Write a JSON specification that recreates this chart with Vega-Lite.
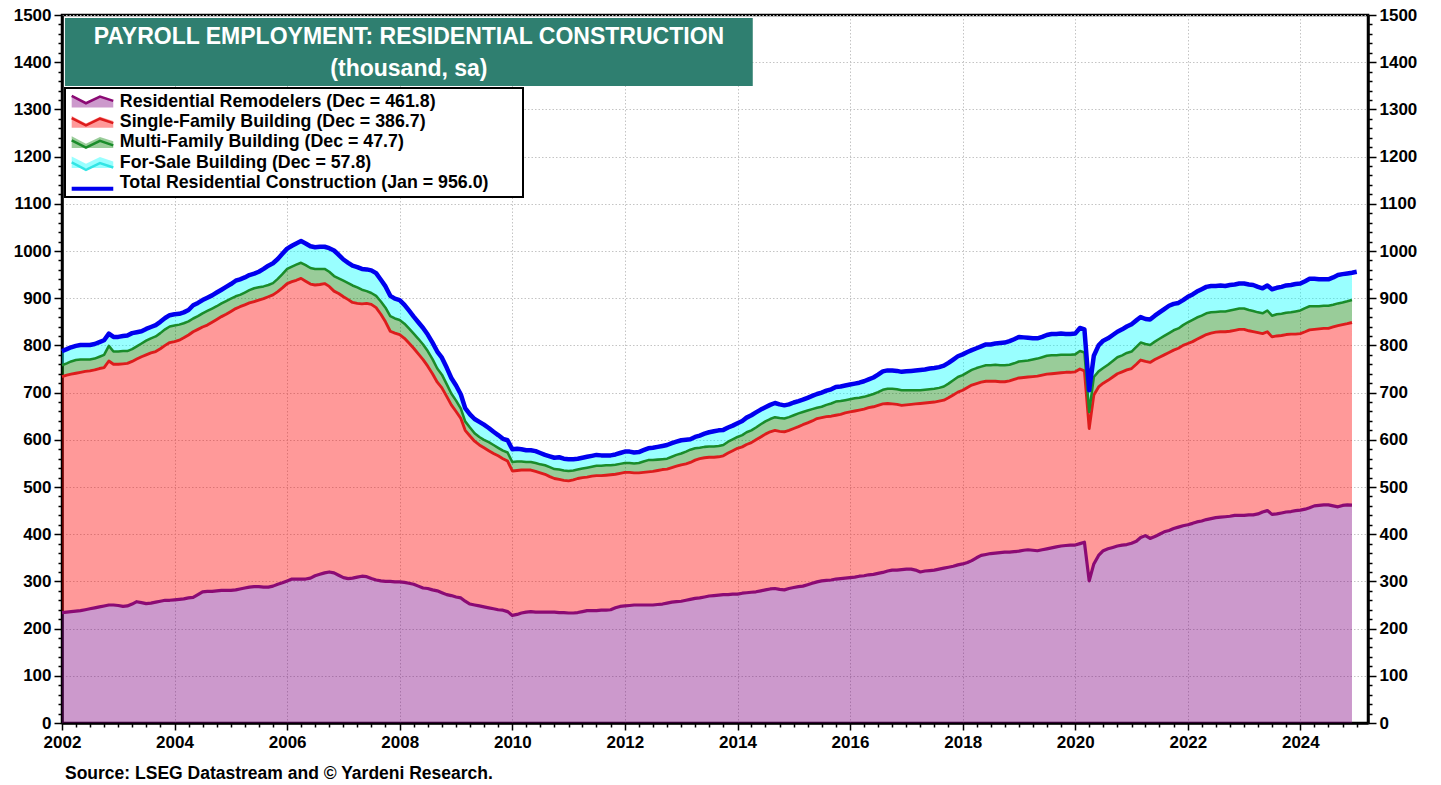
{
  "$schema": "https://vega.github.io/schema/vega-lite/v6.json",
  "width": 1306,
  "height": 708,
  "autosize": {"type": "none"},
  "padding": {"left": 62, "top": 15, "right": 73, "bottom": 62},
  "background": "white",
  "config": {
    "view": {"stroke": "black", "strokeWidth": 2.5},
    "font": "Liberation Sans",
    "axis": {
      "labelFont": "Liberation Sans", "labelFontSize": 17, "labelFontWeight": "bold", "labelColor": "black",
      "tickColor": "black", "tickWidth": 1.5, "domainColor": "black", "domainWidth": 2.5,
      "gridColor": "#c4c4c4", "gridDash": [1.5, 2], "gridWidth": 1, "labelOverlap": false, "labelPadding": 3
    },
    "legend": {"labelFont": "Liberation Sans", "labelFontSize": 17.8, "labelFontWeight": "bold", "labelColor": "black", "labelLimit": 0}
  },
  "title": {
    "text": "Source: LSEG Datastream and © Yardeni Research.",
    "orient": "bottom", "anchor": "start", "frame": "group",
    "font": "Liberation Sans", "fontSize": 17.5, "fontWeight": "bold", "color": "black",
    "offset": 15, "dx": 3
  },
  "data": {
    "format": {"parse": {"date": "utc:'%Y-%m'"}},
    "values": [
      {"date":"2002-01","a_remod":234,"b_single":500,"c_multi":24,"d_forsale":30,"total":788},
      {"date":"2002-02","a_remod":235,"b_single":502,"c_multi":25,"d_forsale":30,"total":792},
      {"date":"2002-03","a_remod":236,"b_single":503,"c_multi":27,"d_forsale":30,"total":796},
      {"date":"2002-04","a_remod":237,"b_single":504,"c_multi":28,"d_forsale":30,"total":799},
      {"date":"2002-05","a_remod":238,"b_single":505,"c_multi":27,"d_forsale":31,"total":801},
      {"date":"2002-06","a_remod":240,"b_single":505,"c_multi":25,"d_forsale":31,"total":801},
      {"date":"2002-07","a_remod":242,"b_single":504,"c_multi":24,"d_forsale":31,"total":801},
      {"date":"2002-08","a_remod":244,"b_single":504,"c_multi":24,"d_forsale":31,"total":803},
      {"date":"2002-09","a_remod":246,"b_single":505,"c_multi":25,"d_forsale":31,"total":807},
      {"date":"2002-10","a_remod":248,"b_single":505,"c_multi":27,"d_forsale":31,"total":811},
      {"date":"2002-11","a_remod":250,"b_single":517,"c_multi":32,"d_forsale":26,"total":825},
      {"date":"2002-12","a_remod":250,"b_single":510,"c_multi":27,"d_forsale":31,"total":818},
      {"date":"2003-01","a_remod":249,"b_single":511,"c_multi":27,"d_forsale":31,"total":818},
      {"date":"2003-02","a_remod":247,"b_single":514,"c_multi":27,"d_forsale":32,"total":820},
      {"date":"2003-03","a_remod":248,"b_single":514,"c_multi":26,"d_forsale":33,"total":821},
      {"date":"2003-04","a_remod":252,"b_single":514,"c_multi":26,"d_forsale":34,"total":826},
      {"date":"2003-05","a_remod":257,"b_single":514,"c_multi":27,"d_forsale":30,"total":828},
      {"date":"2003-06","a_remod":255,"b_single":521,"c_multi":28,"d_forsale":26,"total":830},
      {"date":"2003-07","a_remod":253,"b_single":527,"c_multi":30,"d_forsale":25,"total":835},
      {"date":"2003-08","a_remod":254,"b_single":530,"c_multi":31,"d_forsale":24,"total":839},
      {"date":"2003-09","a_remod":256,"b_single":531,"c_multi":32,"d_forsale":24,"total":843},
      {"date":"2003-10","a_remod":258,"b_single":535,"c_multi":33,"d_forsale":24,"total":850},
      {"date":"2003-11","a_remod":260,"b_single":540,"c_multi":34,"d_forsale":24,"total":858},
      {"date":"2003-12","a_remod":260,"b_single":546,"c_multi":34,"d_forsale":24,"total":864},
      {"date":"2004-01","a_remod":261,"b_single":547,"c_multi":34,"d_forsale":24,"total":866},
      {"date":"2004-02","a_remod":262,"b_single":549,"c_multi":33,"d_forsale":23,"total":867},
      {"date":"2004-03","a_remod":263,"b_single":553,"c_multi":31,"d_forsale":23,"total":870},
      {"date":"2004-04","a_remod":265,"b_single":557,"c_multi":29,"d_forsale":24,"total":875},
      {"date":"2004-05","a_remod":266,"b_single":563,"c_multi":28,"d_forsale":28,"total":885},
      {"date":"2004-06","a_remod":272,"b_single":562,"c_multi":28,"d_forsale":28,"total":890},
      {"date":"2004-07","a_remod":278,"b_single":561,"c_multi":29,"d_forsale":28,"total":896},
      {"date":"2004-08","a_remod":279,"b_single":564,"c_multi":30,"d_forsale":28,"total":901},
      {"date":"2004-09","a_remod":279,"b_single":570,"c_multi":29,"d_forsale":28,"total":906},
      {"date":"2004-10","a_remod":280,"b_single":575,"c_multi":28,"d_forsale":29,"total":912},
      {"date":"2004-11","a_remod":281,"b_single":580,"c_multi":28,"d_forsale":29,"total":918},
      {"date":"2004-12","a_remod":281,"b_single":585,"c_multi":28,"d_forsale":30,"total":924},
      {"date":"2005-01","a_remod":281,"b_single":591,"c_multi":27,"d_forsale":31,"total":930},
      {"date":"2005-02","a_remod":282,"b_single":596,"c_multi":26,"d_forsale":33,"total":937},
      {"date":"2005-03","a_remod":284,"b_single":598,"c_multi":25,"d_forsale":33,"total":940},
      {"date":"2005-04","a_remod":286,"b_single":600,"c_multi":26,"d_forsale":32,"total":944},
      {"date":"2005-05","a_remod":288,"b_single":602,"c_multi":27,"d_forsale":32,"total":949},
      {"date":"2005-06","a_remod":289,"b_single":604,"c_multi":28,"d_forsale":31,"total":952},
      {"date":"2005-07","a_remod":289,"b_single":607,"c_multi":27,"d_forsale":33,"total":956},
      {"date":"2005-08","a_remod":288,"b_single":611,"c_multi":26,"d_forsale":37,"total":962},
      {"date":"2005-09","a_remod":288,"b_single":615,"c_multi":25,"d_forsale":41,"total":969},
      {"date":"2005-10","a_remod":290,"b_single":617,"c_multi":25,"d_forsale":42,"total":974},
      {"date":"2005-11","a_remod":294,"b_single":620,"c_multi":27,"d_forsale":42,"total":983},
      {"date":"2005-12","a_remod":297,"b_single":625,"c_multi":29,"d_forsale":43,"total":994},
      {"date":"2006-01","a_remod":301,"b_single":630,"c_multi":31,"d_forsale":43,"total":1005},
      {"date":"2006-02","a_remod":305,"b_single":630,"c_multi":32,"d_forsale":44,"total":1011},
      {"date":"2006-03","a_remod":305,"b_single":633,"c_multi":33,"d_forsale":45,"total":1016},
      {"date":"2006-04","a_remod":305,"b_single":637,"c_multi":33,"d_forsale":46,"total":1021},
      {"date":"2006-05","a_remod":305,"b_single":631,"c_multi":34,"d_forsale":46,"total":1016},
      {"date":"2006-06","a_remod":307,"b_single":623,"c_multi":34,"d_forsale":46,"total":1010},
      {"date":"2006-07","a_remod":312,"b_single":616,"c_multi":34,"d_forsale":46,"total":1008},
      {"date":"2006-08","a_remod":315,"b_single":614,"c_multi":33,"d_forsale":47,"total":1009},
      {"date":"2006-09","a_remod":318,"b_single":613,"c_multi":31,"d_forsale":47,"total":1009},
      {"date":"2006-10","a_remod":320,"b_single":605,"c_multi":31,"d_forsale":50,"total":1006},
      {"date":"2006-11","a_remod":318,"b_single":597,"c_multi":32,"d_forsale":54,"total":1001},
      {"date":"2006-12","a_remod":313,"b_single":597,"c_multi":32,"d_forsale":50,"total":992},
      {"date":"2007-01","a_remod":308,"b_single":595,"c_multi":34,"d_forsale":45,"total":982},
      {"date":"2007-02","a_remod":306,"b_single":591,"c_multi":35,"d_forsale":43,"total":975},
      {"date":"2007-03","a_remod":307,"b_single":584,"c_multi":36,"d_forsale":42,"total":969},
      {"date":"2007-04","a_remod":309,"b_single":580,"c_multi":34,"d_forsale":43,"total":966},
      {"date":"2007-05","a_remod":311,"b_single":577,"c_multi":30,"d_forsale":44,"total":962},
      {"date":"2007-06","a_remod":310,"b_single":579,"c_multi":26,"d_forsale":46,"total":961},
      {"date":"2007-07","a_remod":306,"b_single":581,"c_multi":24,"d_forsale":48,"total":959},
      {"date":"2007-08","a_remod":303,"b_single":577,"c_multi":25,"d_forsale":48,"total":953},
      {"date":"2007-09","a_remod":301,"b_single":565,"c_multi":27,"d_forsale":46,"total":939},
      {"date":"2007-10","a_remod":300,"b_single":550,"c_multi":30,"d_forsale":45,"total":925},
      {"date":"2007-11","a_remod":300,"b_single":530,"c_multi":32,"d_forsale":43,"total":905},
      {"date":"2007-12","a_remod":299,"b_single":527,"c_multi":31,"d_forsale":42,"total":899},
      {"date":"2008-01","a_remod":299,"b_single":524,"c_multi":31,"d_forsale":42,"total":896},
      {"date":"2008-02","a_remod":298,"b_single":517,"c_multi":31,"d_forsale":40,"total":886},
      {"date":"2008-03","a_remod":296,"b_single":509,"c_multi":31,"d_forsale":38,"total":874},
      {"date":"2008-04","a_remod":294,"b_single":500,"c_multi":31,"d_forsale":36,"total":861},
      {"date":"2008-05","a_remod":290,"b_single":492,"c_multi":32,"d_forsale":35,"total":849},
      {"date":"2008-06","a_remod":286,"b_single":484,"c_multi":32,"d_forsale":35,"total":837},
      {"date":"2008-07","a_remod":285,"b_single":471,"c_multi":32,"d_forsale":35,"total":823},
      {"date":"2008-08","a_remod":282,"b_single":458,"c_multi":31,"d_forsale":35,"total":806},
      {"date":"2008-09","a_remod":280,"b_single":442,"c_multi":29,"d_forsale":36,"total":787},
      {"date":"2008-10","a_remod":276,"b_single":434,"c_multi":28,"d_forsale":36,"total":774},
      {"date":"2008-11","a_remod":272,"b_single":420,"c_multi":26,"d_forsale":35,"total":753},
      {"date":"2008-12","a_remod":270,"b_single":404,"c_multi":24,"d_forsale":33,"total":731},
      {"date":"2009-01","a_remod":267,"b_single":393,"c_multi":23,"d_forsale":32,"total":715},
      {"date":"2009-02","a_remod":265,"b_single":380,"c_multi":21,"d_forsale":30,"total":696},
      {"date":"2009-03","a_remod":258,"b_single":362,"c_multi":19,"d_forsale":28,"total":667},
      {"date":"2009-04","a_remod":252,"b_single":356,"c_multi":18,"d_forsale":28,"total":654},
      {"date":"2009-05","a_remod":250,"b_single":347,"c_multi":17,"d_forsale":30,"total":644},
      {"date":"2009-06","a_remod":248,"b_single":341,"c_multi":17,"d_forsale":32,"total":638},
      {"date":"2009-07","a_remod":246,"b_single":337,"c_multi":17,"d_forsale":32,"total":632},
      {"date":"2009-08","a_remod":244,"b_single":333,"c_multi":18,"d_forsale":30,"total":625},
      {"date":"2009-09","a_remod":242,"b_single":329,"c_multi":18,"d_forsale":28,"total":617},
      {"date":"2009-10","a_remod":240,"b_single":326,"c_multi":17,"d_forsale":27,"total":610},
      {"date":"2009-11","a_remod":239,"b_single":321,"c_multi":17,"d_forsale":25,"total":602},
      {"date":"2009-12","a_remod":236,"b_single":319,"c_multi":18,"d_forsale":26,"total":599},
      {"date":"2010-01","a_remod":228,"b_single":306,"c_multi":19,"d_forsale":27,"total":580},
      {"date":"2010-02","a_remod":230,"b_single":305,"c_multi":19,"d_forsale":27,"total":581},
      {"date":"2010-03","a_remod":233,"b_single":303,"c_multi":18,"d_forsale":26,"total":580},
      {"date":"2010-04","a_remod":235,"b_single":301,"c_multi":17,"d_forsale":25,"total":578},
      {"date":"2010-05","a_remod":236,"b_single":300,"c_multi":17,"d_forsale":25,"total":578},
      {"date":"2010-06","a_remod":235,"b_single":298,"c_multi":18,"d_forsale":25,"total":576},
      {"date":"2010-07","a_remod":235,"b_single":295,"c_multi":18,"d_forsale":24,"total":572},
      {"date":"2010-08","a_remod":235,"b_single":292,"c_multi":19,"d_forsale":22,"total":568},
      {"date":"2010-09","a_remod":235,"b_single":287,"c_multi":20,"d_forsale":23,"total":565},
      {"date":"2010-10","a_remod":235,"b_single":283,"c_multi":20,"d_forsale":24,"total":562},
      {"date":"2010-11","a_remod":234,"b_single":282,"c_multi":21,"d_forsale":26,"total":563},
      {"date":"2010-12","a_remod":234,"b_single":280,"c_multi":21,"d_forsale":25,"total":560},
      {"date":"2011-01","a_remod":233,"b_single":280,"c_multi":21,"d_forsale":25,"total":559},
      {"date":"2011-02","a_remod":233,"b_single":282,"c_multi":20,"d_forsale":24,"total":559},
      {"date":"2011-03","a_remod":234,"b_single":284,"c_multi":19,"d_forsale":23,"total":560},
      {"date":"2011-04","a_remod":236,"b_single":284,"c_multi":19,"d_forsale":23,"total":562},
      {"date":"2011-05","a_remod":238,"b_single":283,"c_multi":20,"d_forsale":23,"total":564},
      {"date":"2011-06","a_remod":238,"b_single":285,"c_multi":20,"d_forsale":23,"total":566},
      {"date":"2011-07","a_remod":238,"b_single":286,"c_multi":21,"d_forsale":23,"total":568},
      {"date":"2011-08","a_remod":239,"b_single":285,"c_multi":21,"d_forsale":22,"total":567},
      {"date":"2011-09","a_remod":239,"b_single":286,"c_multi":21,"d_forsale":21,"total":567},
      {"date":"2011-10","a_remod":240,"b_single":286,"c_multi":20,"d_forsale":21,"total":567},
      {"date":"2011-11","a_remod":244,"b_single":283,"c_multi":20,"d_forsale":22,"total":569},
      {"date":"2011-12","a_remod":247,"b_single":282,"c_multi":20,"d_forsale":23,"total":572},
      {"date":"2012-01","a_remod":248,"b_single":283,"c_multi":20,"d_forsale":24,"total":575},
      {"date":"2012-02","a_remod":249,"b_single":282,"c_multi":20,"d_forsale":24,"total":575},
      {"date":"2012-03","a_remod":250,"b_single":280,"c_multi":20,"d_forsale":23,"total":573},
      {"date":"2012-04","a_remod":250,"b_single":280,"c_multi":21,"d_forsale":23,"total":574},
      {"date":"2012-05","a_remod":250,"b_single":281,"c_multi":23,"d_forsale":24,"total":578},
      {"date":"2012-06","a_remod":250,"b_single":282,"c_multi":25,"d_forsale":25,"total":582},
      {"date":"2012-07","a_remod":250,"b_single":283,"c_multi":24,"d_forsale":26,"total":583},
      {"date":"2012-08","a_remod":251,"b_single":284,"c_multi":23,"d_forsale":27,"total":585},
      {"date":"2012-09","a_remod":252,"b_single":285,"c_multi":22,"d_forsale":28,"total":587},
      {"date":"2012-10","a_remod":254,"b_single":284,"c_multi":22,"d_forsale":29,"total":589},
      {"date":"2012-11","a_remod":256,"b_single":285,"c_multi":23,"d_forsale":29,"total":593},
      {"date":"2012-12","a_remod":257,"b_single":287,"c_multi":24,"d_forsale":28,"total":596},
      {"date":"2013-01","a_remod":258,"b_single":289,"c_multi":24,"d_forsale":28,"total":599},
      {"date":"2013-02","a_remod":260,"b_single":289,"c_multi":26,"d_forsale":25,"total":600},
      {"date":"2013-03","a_remod":262,"b_single":290,"c_multi":27,"d_forsale":22,"total":601},
      {"date":"2013-04","a_remod":264,"b_single":293,"c_multi":25,"d_forsale":24,"total":606},
      {"date":"2013-05","a_remod":265,"b_single":295,"c_multi":23,"d_forsale":26,"total":609},
      {"date":"2013-06","a_remod":267,"b_single":295,"c_multi":23,"d_forsale":28,"total":613},
      {"date":"2013-07","a_remod":269,"b_single":294,"c_multi":23,"d_forsale":30,"total":616},
      {"date":"2013-08","a_remod":270,"b_single":293,"c_multi":23,"d_forsale":32,"total":618},
      {"date":"2013-09","a_remod":271,"b_single":293,"c_multi":23,"d_forsale":33,"total":620},
      {"date":"2013-10","a_remod":272,"b_single":294,"c_multi":23,"d_forsale":32,"total":621},
      {"date":"2013-11","a_remod":272,"b_single":300,"c_multi":24,"d_forsale":30,"total":626},
      {"date":"2013-12","a_remod":273,"b_single":304,"c_multi":24,"d_forsale":29,"total":630},
      {"date":"2014-01","a_remod":273,"b_single":309,"c_multi":24,"d_forsale":29,"total":635},
      {"date":"2014-02","a_remod":275,"b_single":310,"c_multi":25,"d_forsale":30,"total":640},
      {"date":"2014-03","a_remod":276,"b_single":314,"c_multi":26,"d_forsale":31,"total":647},
      {"date":"2014-04","a_remod":277,"b_single":317,"c_multi":26,"d_forsale":32,"total":652},
      {"date":"2014-05","a_remod":278,"b_single":322,"c_multi":26,"d_forsale":32,"total":658},
      {"date":"2014-06","a_remod":280,"b_single":326,"c_multi":27,"d_forsale":31,"total":664},
      {"date":"2014-07","a_remod":282,"b_single":330,"c_multi":27,"d_forsale":30,"total":669},
      {"date":"2014-08","a_remod":284,"b_single":333,"c_multi":27,"d_forsale":30,"total":674},
      {"date":"2014-09","a_remod":285,"b_single":335,"c_multi":28,"d_forsale":30,"total":678},
      {"date":"2014-10","a_remod":283,"b_single":335,"c_multi":28,"d_forsale":29,"total":675},
      {"date":"2014-11","a_remod":282,"b_single":335,"c_multi":28,"d_forsale":28,"total":673},
      {"date":"2014-12","a_remod":285,"b_single":335,"c_multi":28,"d_forsale":27,"total":675},
      {"date":"2015-01","a_remod":287,"b_single":337,"c_multi":28,"d_forsale":27,"total":679},
      {"date":"2015-02","a_remod":289,"b_single":339,"c_multi":28,"d_forsale":26,"total":682},
      {"date":"2015-03","a_remod":290,"b_single":342,"c_multi":27,"d_forsale":26,"total":685},
      {"date":"2015-04","a_remod":293,"b_single":343,"c_multi":26,"d_forsale":27,"total":689},
      {"date":"2015-05","a_remod":296,"b_single":344,"c_multi":25,"d_forsale":28,"total":693},
      {"date":"2015-06","a_remod":299,"b_single":346,"c_multi":23,"d_forsale":29,"total":697},
      {"date":"2015-07","a_remod":301,"b_single":346,"c_multi":23,"d_forsale":30,"total":700},
      {"date":"2015-08","a_remod":302,"b_single":347,"c_multi":25,"d_forsale":30,"total":704},
      {"date":"2015-09","a_remod":303,"b_single":347,"c_multi":27,"d_forsale":30,"total":707},
      {"date":"2015-10","a_remod":305,"b_single":347,"c_multi":29,"d_forsale":31,"total":712},
      {"date":"2015-11","a_remod":306,"b_single":348,"c_multi":28,"d_forsale":31,"total":713},
      {"date":"2015-12","a_remod":307,"b_single":350,"c_multi":27,"d_forsale":31,"total":715},
      {"date":"2016-01","a_remod":308,"b_single":351,"c_multi":27,"d_forsale":31,"total":717},
      {"date":"2016-02","a_remod":309,"b_single":352,"c_multi":27,"d_forsale":31,"total":719},
      {"date":"2016-03","a_remod":311,"b_single":352,"c_multi":26,"d_forsale":32,"total":721},
      {"date":"2016-04","a_remod":312,"b_single":353,"c_multi":26,"d_forsale":33,"total":724},
      {"date":"2016-05","a_remod":314,"b_single":354,"c_multi":26,"d_forsale":34,"total":728},
      {"date":"2016-06","a_remod":315,"b_single":355,"c_multi":27,"d_forsale":35,"total":732},
      {"date":"2016-07","a_remod":317,"b_single":356,"c_multi":28,"d_forsale":37,"total":738},
      {"date":"2016-08","a_remod":319,"b_single":357,"c_multi":30,"d_forsale":39,"total":745},
      {"date":"2016-09","a_remod":322,"b_single":355,"c_multi":31,"d_forsale":39,"total":747},
      {"date":"2016-10","a_remod":324,"b_single":352,"c_multi":32,"d_forsale":39,"total":747},
      {"date":"2016-11","a_remod":324,"b_single":351,"c_multi":32,"d_forsale":39,"total":746},
      {"date":"2016-12","a_remod":325,"b_single":348,"c_multi":32,"d_forsale":39,"total":744},
      {"date":"2017-01","a_remod":326,"b_single":348,"c_multi":31,"d_forsale":40,"total":745},
      {"date":"2017-02","a_remod":326,"b_single":349,"c_multi":30,"d_forsale":41,"total":746},
      {"date":"2017-03","a_remod":324,"b_single":352,"c_multi":29,"d_forsale":42,"total":747},
      {"date":"2017-04","a_remod":320,"b_single":357,"c_multi":28,"d_forsale":43,"total":748},
      {"date":"2017-05","a_remod":322,"b_single":356,"c_multi":28,"d_forsale":43,"total":749},
      {"date":"2017-06","a_remod":323,"b_single":356,"c_multi":28,"d_forsale":44,"total":751},
      {"date":"2017-07","a_remod":324,"b_single":356,"c_multi":28,"d_forsale":44,"total":752},
      {"date":"2017-08","a_remod":326,"b_single":356,"c_multi":28,"d_forsale":44,"total":754},
      {"date":"2017-09","a_remod":328,"b_single":356,"c_multi":29,"d_forsale":44,"total":757},
      {"date":"2017-10","a_remod":330,"b_single":359,"c_multi":30,"d_forsale":44,"total":763},
      {"date":"2017-11","a_remod":332,"b_single":363,"c_multi":31,"d_forsale":44,"total":770},
      {"date":"2017-12","a_remod":335,"b_single":366,"c_multi":32,"d_forsale":44,"total":777},
      {"date":"2018-01","a_remod":337,"b_single":368,"c_multi":32,"d_forsale":44,"total":781},
      {"date":"2018-02","a_remod":340,"b_single":371,"c_multi":32,"d_forsale":43,"total":786},
      {"date":"2018-03","a_remod":344,"b_single":372,"c_multi":32,"d_forsale":42,"total":790},
      {"date":"2018-04","a_remod":350,"b_single":369,"c_multi":33,"d_forsale":42,"total":794},
      {"date":"2018-05","a_remod":355,"b_single":367,"c_multi":33,"d_forsale":43,"total":798},
      {"date":"2018-06","a_remod":357,"b_single":367,"c_multi":34,"d_forsale":44,"total":802},
      {"date":"2018-07","a_remod":359,"b_single":365,"c_multi":34,"d_forsale":44,"total":802},
      {"date":"2018-08","a_remod":360,"b_single":364,"c_multi":35,"d_forsale":45,"total":804},
      {"date":"2018-09","a_remod":361,"b_single":362,"c_multi":35,"d_forsale":47,"total":805},
      {"date":"2018-10","a_remod":362,"b_single":361,"c_multi":35,"d_forsale":48,"total":806},
      {"date":"2018-11","a_remod":362,"b_single":363,"c_multi":34,"d_forsale":50,"total":809},
      {"date":"2018-12","a_remod":363,"b_single":365,"c_multi":34,"d_forsale":51,"total":813},
      {"date":"2019-01","a_remod":364,"b_single":367,"c_multi":35,"d_forsale":52,"total":818},
      {"date":"2019-02","a_remod":366,"b_single":366,"c_multi":35,"d_forsale":50,"total":817},
      {"date":"2019-03","a_remod":367,"b_single":366,"c_multi":35,"d_forsale":48,"total":816},
      {"date":"2019-04","a_remod":366,"b_single":368,"c_multi":36,"d_forsale":45,"total":815},
      {"date":"2019-05","a_remod":365,"b_single":370,"c_multi":37,"d_forsale":43,"total":815},
      {"date":"2019-06","a_remod":367,"b_single":370,"c_multi":38,"d_forsale":43,"total":818},
      {"date":"2019-07","a_remod":369,"b_single":370,"c_multi":39,"d_forsale":44,"total":822},
      {"date":"2019-08","a_remod":371,"b_single":369,"c_multi":39,"d_forsale":45,"total":824},
      {"date":"2019-09","a_remod":373,"b_single":368,"c_multi":38,"d_forsale":45,"total":824},
      {"date":"2019-10","a_remod":375,"b_single":367,"c_multi":38,"d_forsale":45,"total":825},
      {"date":"2019-11","a_remod":376,"b_single":367,"c_multi":37,"d_forsale":44,"total":824},
      {"date":"2019-12","a_remod":377,"b_single":366,"c_multi":37,"d_forsale":44,"total":824},
      {"date":"2020-01","a_remod":377,"b_single":367,"c_multi":37,"d_forsale":44,"total":825},
      {"date":"2020-02","a_remod":380,"b_single":370,"c_multi":38,"d_forsale":49,"total":837},
      {"date":"2020-03","a_remod":383,"b_single":363,"c_multi":39,"d_forsale":49,"total":834},
      {"date":"2020-04","a_remod":301,"b_single":323,"c_multi":35,"d_forsale":46,"total":705},
      {"date":"2020-05","a_remod":337,"b_single":358,"c_multi":38,"d_forsale":45,"total":778},
      {"date":"2020-06","a_remod":355,"b_single":357,"c_multi":33,"d_forsale":55,"total":800},
      {"date":"2020-07","a_remod":365,"b_single":355,"c_multi":32,"d_forsale":58,"total":810},
      {"date":"2020-08","a_remod":369,"b_single":357,"c_multi":33,"d_forsale":56,"total":815},
      {"date":"2020-09","a_remod":372,"b_single":361,"c_multi":34,"d_forsale":55,"total":822},
      {"date":"2020-10","a_remod":375,"b_single":365,"c_multi":35,"d_forsale":54,"total":829},
      {"date":"2020-11","a_remod":377,"b_single":367,"c_multi":35,"d_forsale":55,"total":834},
      {"date":"2020-12","a_remod":378,"b_single":370,"c_multi":36,"d_forsale":56,"total":840},
      {"date":"2021-01","a_remod":381,"b_single":370,"c_multi":36,"d_forsale":58,"total":845},
      {"date":"2021-02","a_remod":385,"b_single":375,"c_multi":37,"d_forsale":56,"total":853},
      {"date":"2021-03","a_remod":393,"b_single":376,"c_multi":37,"d_forsale":54,"total":860},
      {"date":"2021-04","a_remod":397,"b_single":369,"c_multi":37,"d_forsale":53,"total":856},
      {"date":"2021-05","a_remod":391,"b_single":373,"c_multi":37,"d_forsale":54,"total":855},
      {"date":"2021-06","a_remod":395,"b_single":375,"c_multi":38,"d_forsale":55,"total":863},
      {"date":"2021-07","a_remod":400,"b_single":375,"c_multi":39,"d_forsale":56,"total":870},
      {"date":"2021-08","a_remod":405,"b_single":375,"c_multi":40,"d_forsale":57,"total":877},
      {"date":"2021-09","a_remod":408,"b_single":377,"c_multi":41,"d_forsale":58,"total":884},
      {"date":"2021-10","a_remod":412,"b_single":378,"c_multi":42,"d_forsale":56,"total":888},
      {"date":"2021-11","a_remod":415,"b_single":379,"c_multi":42,"d_forsale":54,"total":890},
      {"date":"2021-12","a_remod":418,"b_single":382,"c_multi":43,"d_forsale":53,"total":896},
      {"date":"2022-01","a_remod":420,"b_single":384,"c_multi":45,"d_forsale":54,"total":903},
      {"date":"2022-02","a_remod":423,"b_single":385,"c_multi":46,"d_forsale":54,"total":908},
      {"date":"2022-03","a_remod":426,"b_single":387,"c_multi":46,"d_forsale":55,"total":914},
      {"date":"2022-04","a_remod":428,"b_single":390,"c_multi":45,"d_forsale":56,"total":919},
      {"date":"2022-05","a_remod":431,"b_single":392,"c_multi":45,"d_forsale":56,"total":924},
      {"date":"2022-06","a_remod":433,"b_single":393,"c_multi":44,"d_forsale":56,"total":926},
      {"date":"2022-07","a_remod":435,"b_single":393,"c_multi":43,"d_forsale":55,"total":926},
      {"date":"2022-08","a_remod":436,"b_single":393,"c_multi":43,"d_forsale":55,"total":927},
      {"date":"2022-09","a_remod":437,"b_single":392,"c_multi":43,"d_forsale":54,"total":926},
      {"date":"2022-10","a_remod":438,"b_single":392,"c_multi":44,"d_forsale":54,"total":928},
      {"date":"2022-11","a_remod":440,"b_single":392,"c_multi":44,"d_forsale":53,"total":929},
      {"date":"2022-12","a_remod":440,"b_single":394,"c_multi":44,"d_forsale":53,"total":931},
      {"date":"2023-01","a_remod":440,"b_single":394,"c_multi":44,"d_forsale":53,"total":931},
      {"date":"2023-02","a_remod":441,"b_single":390,"c_multi":44,"d_forsale":54,"total":929},
      {"date":"2023-03","a_remod":441,"b_single":388,"c_multi":44,"d_forsale":55,"total":928},
      {"date":"2023-04","a_remod":443,"b_single":384,"c_multi":43,"d_forsale":54,"total":924},
      {"date":"2023-05","a_remod":447,"b_single":378,"c_multi":43,"d_forsale":53,"total":921},
      {"date":"2023-06","a_remod":450,"b_single":379,"c_multi":45,"d_forsale":53,"total":927},
      {"date":"2023-07","a_remod":442,"b_single":376,"c_multi":45,"d_forsale":56,"total":919},
      {"date":"2023-08","a_remod":443,"b_single":377,"c_multi":46,"d_forsale":56,"total":922},
      {"date":"2023-09","a_remod":445,"b_single":376,"c_multi":46,"d_forsale":57,"total":924},
      {"date":"2023-10","a_remod":447,"b_single":376,"c_multi":46,"d_forsale":58,"total":927},
      {"date":"2023-11","a_remod":448,"b_single":376,"c_multi":46,"d_forsale":58,"total":928},
      {"date":"2023-12","a_remod":450,"b_single":374,"c_multi":48,"d_forsale":58,"total":930},
      {"date":"2024-01","a_remod":451,"b_single":374,"c_multi":49,"d_forsale":57,"total":931},
      {"date":"2024-02","a_remod":453,"b_single":376,"c_multi":50,"d_forsale":57,"total":936},
      {"date":"2024-03","a_remod":456,"b_single":377,"c_multi":50,"d_forsale":58,"total":941},
      {"date":"2024-04","a_remod":460,"b_single":374,"c_multi":49,"d_forsale":58,"total":941},
      {"date":"2024-05","a_remod":461,"b_single":374,"c_multi":48,"d_forsale":57,"total":940},
      {"date":"2024-06","a_remod":462,"b_single":374,"c_multi":48,"d_forsale":56,"total":940},
      {"date":"2024-07","a_remod":462,"b_single":374,"c_multi":48,"d_forsale":56,"total":940},
      {"date":"2024-08","a_remod":460,"b_single":379,"c_multi":47,"d_forsale":58,"total":944},
      {"date":"2024-09","a_remod":458,"b_single":384,"c_multi":47,"d_forsale":60,"total":949},
      {"date":"2024-10","a_remod":461,"b_single":383,"c_multi":47,"d_forsale":60,"total":951},
      {"date":"2024-11","a_remod":462,"b_single":384,"c_multi":47.5,"d_forsale":59,"total":952.5},
      {"date":"2024-12","a_remod":461.8,"b_single":386.7,"c_multi":47.7,"d_forsale":57.8,"total":954.0},
      {"date":"2025-01","total":956.0}
    ]
  },
  "resolve": {"axis": {"y": "independent"}},
  "layer": [
    {
      "transform": [
        {"filter": "datum.a_remod != null"},
        {"fold": ["a_remod", "b_single", "c_multi", "d_forsale"], "as": ["series", "v"]},
        {"stack": "v", "groupby": ["date"], "sort": [{"field": "series", "order": "ascending"}], "as": ["v0", "v1"]}
      ],
      "mark": {"type": "area", "fillOpacity": 0.4, "interpolate": "linear"},
      "encoding": {
        "x": {
          "field": "date", "type": "temporal", "title": null,
          "scale": {"type": "utc", "domain": [{"year": 2002, "month": 1, "date": 1, "utc": true}, {"year": 2025, "month": 3, "date": 15, "utc": true}]},
          "axis": {
            "tickCount": {"interval": "month", "step": 3},
            "labelExpr": "(utcmonth(datum.value) === 0 && utcyear(datum.value) % 2 === 0) ? utcFormat(datum.value, '%Y') : ''",
            "labelFlush": false,
            "labelPadding": 4,
            "grid": true,
            "gridOpacity": {"condition": {"test": "utcmonth(datum.value) === 0 && utcyear(datum.value) % 2 === 0", "value": 1}, "value": 0},
            "tickSize": {"condition": {"test": "utcmonth(datum.value) === 0 && utcyear(datum.value) % 2 === 0", "value": 7}, "value": 4}
          }
        },
        "y": {
          "field": "v1", "type": "quantitative",
          "scale": {"domain": [0, 1500], "nice": false},
          "axis": {
            "orient": "left", "title": null, "tickCount": 75, "format": "d", "grid": true,
            "labelExpr": "datum.value % 100 === 0 ? datum.label : ''",
            "gridOpacity": {"condition": {"test": "datum.value % 100 === 0", "value": 1}, "value": 0},
            "tickSize": {"condition": {"test": "datum.value % 100 === 0", "value": 8}, "value": 4}
          }
        },
        "y2": {"field": "v0"},
        "fill": {
          "field": "series", "type": "nominal",
          "scale": {"domain": ["a_remod", "b_single", "c_multi", "d_forsale", "e_placeholder"], "range": ["#800080", "#FF0000", "#008000", "#00FFFF", "transparent"]},
          "legend": {
            "orient": "none", "legendX": 3, "legendY": 73,
            "title": "\u00a0", "titleOrient": "right", "titleFontSize": 6, "titlePadding": 29,
            "padding": 5, "fillColor": "white", "strokeColor": "black",
            "symbolType": "M-1.03,-0.86L1.01,0.19L3.01,-0.77L4.91,-0.14L4.91,0.8L-1.03,0.8Z",
            "symbolSize": 196, "symbolStrokeWidth": 0,
            "labelOffset": 32, "rowPadding": 1.2,
            "labelExpr": "datum.value === 'a_remod' ? 'Residential Remodelers (Dec = 461.8)' : datum.value === 'b_single' ? 'Single-Family Building (Dec = 386.7)' : datum.value === 'c_multi' ? 'Multi-Family Building (Dec = 47.7)' : datum.value === 'd_forsale' ? 'For-Sale Building (Dec = 57.8)' : 'Total Residential Construction (Jan = 956.0)'",
            "zindex": 2,
            "encode": {
              "legend": {"update": {"strokeWidth": {"value": 2}}},
              "symbols": {"update": {"fillOpacity": {"value": 0.4}, "opacity": {"value": 1}}}
            }
          }
        }
      }
    },
    {
      "transform": [
        {"filter": "datum.a_remod != null"},
        {"fold": ["a_remod", "b_single", "c_multi", "d_forsale"], "as": ["key", "v"]},
        {"stack": "v", "groupby": ["date"], "sort": [{"field": "key", "order": "ascending"}], "as": ["v0", "v1"]}
      ],
      "mark": {"type": "line", "interpolate": "linear", "strokeJoin": "round"},
      "encoding": {
        "x": {"field": "date", "type": "temporal", "title": null, "scale": {"type": "utc", "domain": [{"year": 2002, "month": 1, "date": 1, "utc": true}, {"year": 2025, "month": 3, "date": 15, "utc": true}]}},
        "y": {"field": "v1", "type": "quantitative", "scale": {"domain": [0, 1500], "nice": false}, "axis": null},
        "strokeWidth": {"field": "key", "type": "nominal", "scale": {"domain": ["a_remod", "b_single", "c_multi", "d_forsale"], "range": [3.2, 2.2, 2.6, 2]}, "legend": null},
        "stroke": {
          "field": "key", "type": "nominal",
          "scale": {"domain": ["a_remod", "b_single", "c_multi", "d_forsale", "total"], "range": ["#8B0A74", "#DD1C1C", "#1A8C2A", "#33E5E5", "#0000EE"]},
          "legend": {
            "orient": "none", "legendX": 3, "legendY": 73,
            "title": null, "padding": 5,
            "symbolType": "M-1.03,-0.86L1.01,0.19L3.01,-0.77L4.91,-0.14",
            "symbolSize": 196, "symbolStrokeWidth": 2.5,
            "labelOffset": 32, "rowPadding": 1.2,
            "labelExpr": "''",
            "zindex": 3,
            "encode": {
              "symbols": {"update": {
                "shape": {"signal": "datum.value === 'total' ? 'M-1.03,0L4.91,0' : 'M-1.03,-0.86L1.01,0.19L3.01,-0.77L4.91,-0.14'"},
                "fill": {"value": "transparent"},
                "strokeWidth": {"signal": "datum.value === 'total' ? 4 : 2.5"},
                "opacity": {"value": 1}
              }}
            }
          }
        }
      }
    },
    {
      "mark": {"type": "line", "strokeWidth": 4.5, "interpolate": "linear", "strokeJoin": "round"},
      "encoding": {
        "x": {"field": "date", "type": "temporal", "title": null, "scale": {"type": "utc", "domain": [{"year": 2002, "month": 1, "date": 1, "utc": true}, {"year": 2025, "month": 3, "date": 15, "utc": true}]}},
        "y": {
          "field": "total", "type": "quantitative",
          "scale": {"domain": [0, 1500], "nice": false},
          "axis": {
            "orient": "right", "title": null, "tickCount": 75, "format": "d", "grid": false,
            "labelExpr": "datum.value % 100 === 0 ? datum.label : ''",
            "tickSize": {"condition": {"test": "datum.value % 100 === 0", "value": 8}, "value": 4}
          }
        },
        "stroke": {"datum": "total"}
      }
    },
    {
      "data": {"values": [{}]},
      "mark": {"type": "rect", "color": "#2F7F70"},
      "encoding": {
        "x": {"datum": {"year": 2002, "month": 1, "date": 20, "utc": true}, "type": "temporal", "scale": {"type": "utc"}},
        "x2": {"datum": {"year": 2014, "month": 4, "date": 10, "utc": true}},
        "y": {"datum": 1493.6, "type": "quantitative", "axis": null},
        "y2": {"datum": 1349.6}
      }
    },
    {
      "data": {"values": [{}]},
      "mark": {
        "type": "text", "text": ["PAYROLL EMPLOYMENT: RESIDENTIAL CONSTRUCTION", "(thousand, sa)"],
        "lineHeight": 32, "font": "Liberation Sans", "fontSize": 23, "fontWeight": "bold",
        "color": "white", "align": "center", "baseline": "middle"
      },
      "encoding": {
        "x": {"datum": {"year": 2008, "month": 3, "date": 1, "utc": true}, "type": "temporal", "scale": {"type": "utc"}},
        "y": {"datum": 1453.4, "type": "quantitative", "axis": null}
      }
    }
  ]
}
